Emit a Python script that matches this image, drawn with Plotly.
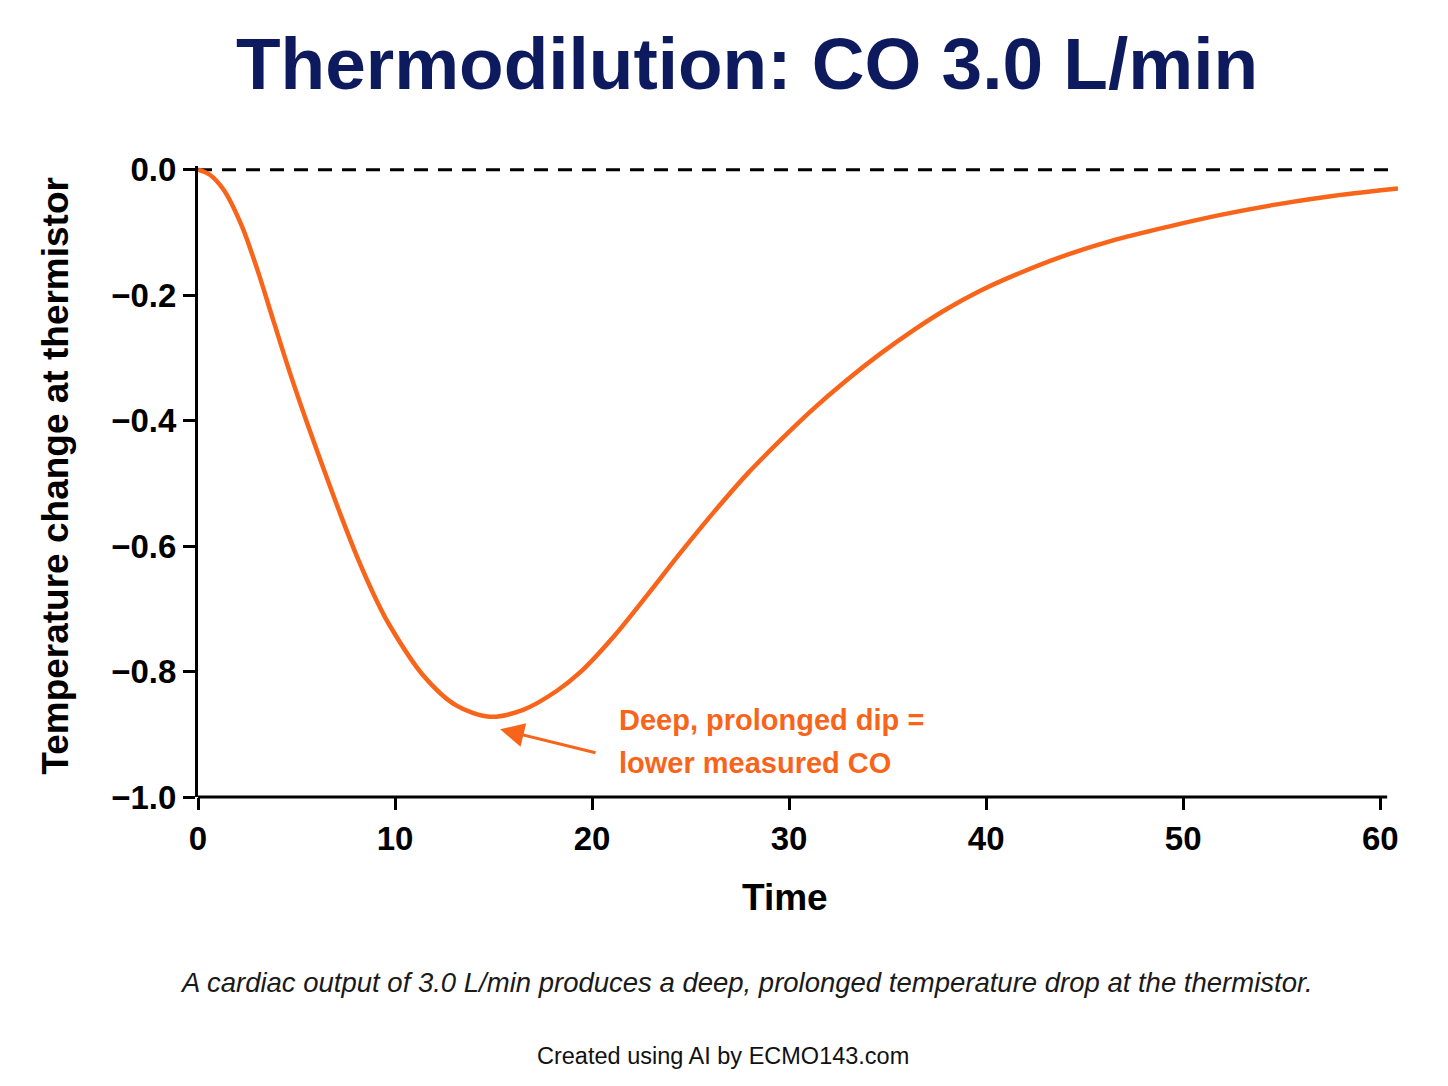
import plotly.graph_objects as go

# Data
time_s = [0, 0.6, 1.3, 2.2, 3.0, 3.85, 4.7, 5.55, 6.4, 7.2, 8.1, 9.1, 9.7, 11.4,
          13.1, 14.8, 16.5, 18.2, 19.4, 21.1, 22.8, 24.5, 26.2, 27.9, 29.6, 31.2,
          32.9, 34.6, 36.3, 38.0, 39.7, 41.0, 43.7, 46.4, 49.2, 51.9, 54.6, 57.3, 60.9]
temp_change = [0, -0.008, -0.032, -0.088, -0.158, -0.243, -0.327, -0.405, -0.479,
               -0.547, -0.619, -0.689, -0.725, -0.805, -0.854, -0.872, -0.861,
               -0.831, -0.801, -0.744, -0.678, -0.610, -0.545, -0.484, -0.430,
               -0.382, -0.336, -0.294, -0.256, -0.222, -0.193, -0.174, -0.140,
               -0.113, -0.091, -0.072, -0.056, -0.043, -0.030]
x_ticks = [0, 10, 20, 30, 40, 50, 60]
y_ticks = [0.0, -0.2, -0.4, -0.6, -0.8, -1.0]
y_tick_labels = ["0.0", "\u22120.2", "\u22120.4", "\u22120.6", "\u22120.8", "\u22121.0"]

title_text = "Thermodilution: CO 3.0 L/min"
y_title = "Temperature change at thermistor"
x_title = "Time"
note_lines = ["Deep, prolonged dip =", "lower measured CO"]
caption = "A cardiac output of 3.0 L/min produces a deep, prolonged temperature drop at the thermistor."
footer = "Created using AI by ECMO143.com"

ORANGE = "#f8641a"
NAVY = "#0e1a5e"
SANS = "Liberation Sans, Arial, Helvetica, sans-serif"

fig = go.Figure()

# zero reference line
fig.add_trace(go.Scatter(x=[0, 60.9], y=[0, 0], mode="lines",
                         line=dict(color="black", width=3, dash="14px,10px"),
                         hoverinfo="skip", showlegend=False))
fig.add_trace(go.Scatter(x=time_s, y=temp_change, mode="lines",
                         line=dict(color=ORANGE, width=4.5, shape="spline", smoothing=0.9),
                         showlegend=False))

# x-axis baseline (ends just past 60)
fig.add_shape(type="line", xref="x", yref="paper", x0=0, x1=60.35, y0=0, y1=0,
              line=dict(color="black", width=3))

annos = []
annos.append(dict(text="<b>" + title_text + "</b>", xref="paper", yref="paper",
                  x=0.4575, y=1.163, xanchor="center", yanchor="middle", showarrow=False,
                  font=dict(family=SANS, size=73, color=NAVY)))
annos.append(dict(text="<b>" + y_title + "</b>", xref="paper", yref="paper",
                  x=-0.119, y=0.5095, textangle=-90, xanchor="center", yanchor="middle",
                  showarrow=False, font=dict(family=SANS, size=37, color="black")))
annos.append(dict(text="<b>" + x_title + "</b>", xref="paper", yref="paper",
                  x=0.489, y=-0.160, xanchor="center", yanchor="middle", showarrow=False,
                  font=dict(family=SANS, size=37, color="black")))
annos.append(dict(text="<i>" + caption + "</i>", xref="paper", yref="paper",
                  x=0.457, y=-0.294, xanchor="center", yanchor="middle", showarrow=False,
                  font=dict(family=SANS, size=27.5, color="#1a1a1a")))
annos.append(dict(text=footer, xref="paper", yref="paper",
                  x=0.4375, y=-0.41, xanchor="center", yanchor="middle", showarrow=False,
                  font=dict(family=SANS, size=23.5, color="#111111")))
for line_text, yv in zip(note_lines, [-0.8765, -0.945]):
    annos.append(dict(text="<b>" + line_text + "</b>", xref="x", yref="y",
                      x=21.27, y=yv, xanchor="left", yanchor="middle", align="left",
                      showarrow=False, font=dict(family=SANS, size=29, color=ORANGE)))
annos.append(dict(text="", xref="x", yref="y", x=15.33, y=-0.892,
                  axref="x", ayref="y", ax=20.25, ay=-0.930, showarrow=True,
                  arrowhead=2, arrowsize=1.6, arrowwidth=3, arrowcolor=ORANGE))

fig.update_layout(
    width=1440, height=1078,
    margin=dict(l=190, r=50, t=158, b=289),
    paper_bgcolor="white", plot_bgcolor="white",
    annotations=annos,
    xaxis=dict(range=[0, 60.9], tickvals=x_ticks, ticks="outside", ticklen=12,
               tickwidth=3, tickcolor="black", showline=False, showgrid=False,
               zeroline=False,
               tickfont=dict(family=SANS, size=33, color="black", weight="bold")),
    yaxis=dict(range=[-1.0, 0.006], tickvals=y_ticks, ticktext=y_tick_labels,
               ticks="outside", ticklen=12, tickwidth=3, tickcolor="black",
               showline=True, linewidth=3, linecolor="black", showgrid=False,
               zeroline=False,
               tickfont=dict(family=SANS, size=33, color="black", weight="bold")),
)

fig.write_html("out.html")
